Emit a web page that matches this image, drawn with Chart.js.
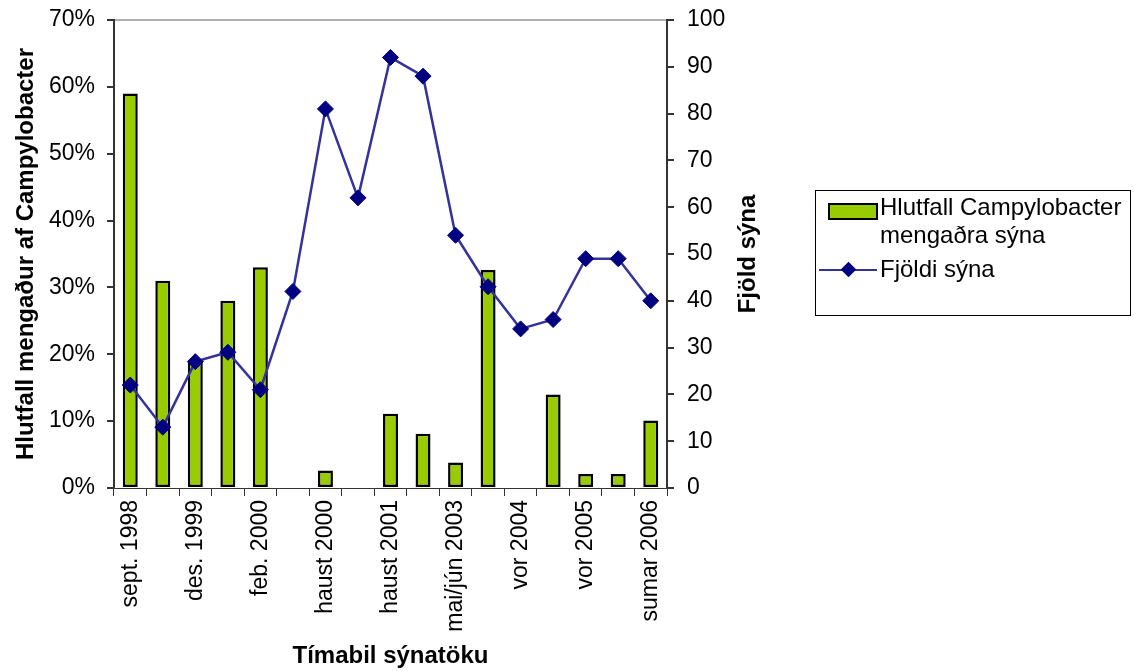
<!DOCTYPE html>
<html>
<head>
<meta charset="utf-8">
<script src="https://cdn.jsdelivr.net/npm/chart.js@4.4.1/dist/chart.umd.min.js"></script>
<style>
  body { margin: 0; background: #fff; }
  #wrap { position: relative; width: 1134px; height: 671px; font-family: "Liberation Sans", Arial, sans-serif; }
  #legend { position: absolute; left: 815px; top: 190px; width: 314px; height: 124px; border: 1px solid #000; font-size: 24px; color: #000; }
  .row { position: absolute; left: 0; }
  .swatch { position: absolute; left: 12px; top: 9px; width: 46px; height: 13px; background: #99cc00; border: 2px solid #000; }
  .lline { position: absolute; left: 3px; top: 12px; width: 58px; height: 2px; background: #333399; }
  .ldia { position: absolute; left: 27px; top: 7px; width: 11px; height: 11px; background: #000080; transform: rotate(45deg); }
  .txt { position: absolute; left: 64px; white-space: nowrap; line-height: 28px; }
</style>
</head>
<body>
<div id="wrap">
  <canvas id="chart" width="1134" height="671"></canvas>
  <div id="legend">
    <div class="row" style="top:3px"><div class="swatch"></div><div class="txt" style="top:-1px">Hlutfall Campylobacter<br>mengaðra sýna</div></div>
    <div class="row" style="top:66px"><div class="lline"></div><div class="ldia"></div><div class="txt" style="top:-2px">Fjöldi sýna</div></div>
  </div>
</div>
<script>
// ===================== data =====================
const timabil = ['sept. 1998', '', 'des. 1999', '', 'feb. 2000', '', 'haust 2000', '', 'haust 2001', '',
                 'mai/jún 2003', '', 'vor 2004', '', 'vor 2005', '', 'sumar 2006'];
// percent of contaminated samples
const hlutfall = [59, 31, 19, 28, 33, 0, 2.6, 0, 11.1, 8.1, 3.8, 32.6, 0, 14, 2.1, 2.1, 10.1];
// number of samples
const fjoldi = [22, 13, 27, 29, 21, 42, 81, 62, 92, 88, 54, 43, 34, 36, 49, 49, 40];

const leftTicks = [0, 10, 20, 30, 40, 50, 60, 70];
const rightTicks = [0, 10, 20, 30, 40, 50, 60, 70, 80, 90, 100];

const FONT = '"Liberation Sans", Arial, sans-serif';
Chart.defaults.font.family = FONT;
Chart.defaults.font.size = 23;
Chart.defaults.color = '#000';

// right axis title reads bottom-to-top like the left one
const rightTitle = {
  id: 'rightTitle',
  afterDraw(chart) {
    const c = chart.ctx;
    const a = chart.chartArea;
    c.save();
    c.translate(748, (a.top + a.bottom) / 2);
    c.rotate(-Math.PI / 2);
    c.font = 'bold 24px ' + FONT;
    c.fillStyle = '#000';
    c.textAlign = 'center';
    c.textBaseline = 'middle';
    c.fillText('Fjöld sýna', 0, 0);
    c.restore();
  }
};

// keep the tick labels from pushing the plot area down
const noLabelPad = s => { s.paddingTop = 0; s.paddingBottom = 0; };

var ctx = document.getElementById('chart').getContext('2d');

const chart = new Chart(ctx, {
  data: {
    labels: timabil,
    datasets: [{
      type: 'line',
      label: 'Fjöldi sýna',
      data: fjoldi,
      yAxisID: 'y2',
      borderColor: '#333399',
      borderWidth: 2.5,
      pointStyle: 'rectRot',
      pointRadius: 8,
      pointBackgroundColor: '#000080',
      pointBorderColor: '#000080',
      pointBorderWidth: 1,
      tension: 0,
      order: 0
    }, {
      type: 'bar',
      label: 'Hlutfall Campylobacter mengaðra sýna',
      data: hlutfall,
      yAxisID: 'y',
      backgroundColor: '#99cc00',
      borderColor: '#000',
      borderWidth: 2.5,
      borderSkipped: false,
      categoryPercentage: 1,
      barPercentage: 0.46,
      order: 1
    }]
  },
  options: {
    responsive: false,
    animation: false,
    layout: { padding: { left: 0, right: 367, top: 20, bottom: 0 } },
    plugins: {
      legend: { display: false },
      tooltip: { enabled: false }
    },
    scales: {
      x: {
        offset: true,
        grid: { offset: true, drawOnChartArea: false, tickLength: 8, color: '#333', lineWidth: 1 },
        border: { color: '#333', width: 1 },
        ticks: { autoSkip: false, maxRotation: 90, minRotation: 90, padding: 4 },
        title: { display: true, text: 'Tímabil sýnatöku', font: { weight: 'bold', size: 24 }, padding: { top: 0, bottom: 0 } },
        afterFit: s => { s.height = 183; s.paddingLeft = 0; s.paddingRight = 0; }
      },
      y: {
        position: 'left',
        min: 0, max: 70,
        afterBuildTicks: s => { s.ticks = leftTicks.map(v => ({ value: v })); },
        ticks: { padding: 12, callback: v => v + '%' },
        grid: {
          color: c => c.tick && c.tick.value === 70 ? '#b0b0b0' : 'rgba(0,0,0,0)',
          tickColor: '#333', tickLength: 7, lineWidth: 2
        },
        border: { color: '#333', width: 2 },
        title: { display: true, text: 'Hlutfall mengaður af Campylobacter', font: { weight: 'bold', size: 24 }, padding: { top: 12, bottom: 0 } },
        afterFit: s => { s.width = 114; noLabelPad(s); }
      },
      y2: {
        position: 'right',
        min: 0, max: 100,
        afterBuildTicks: s => { s.ticks = rightTicks.map(v => ({ value: v })); },
        ticks: { padding: 13 },
        grid: { drawOnChartArea: false, tickColor: '#333', tickLength: 7, lineWidth: 2 },
        border: { color: '#333', width: 2 },
        afterFit: s => { s.width = 100; noLabelPad(s); }
      }
    }
  },
  plugins: [rightTitle]
});
</script>
</body>
</html>
